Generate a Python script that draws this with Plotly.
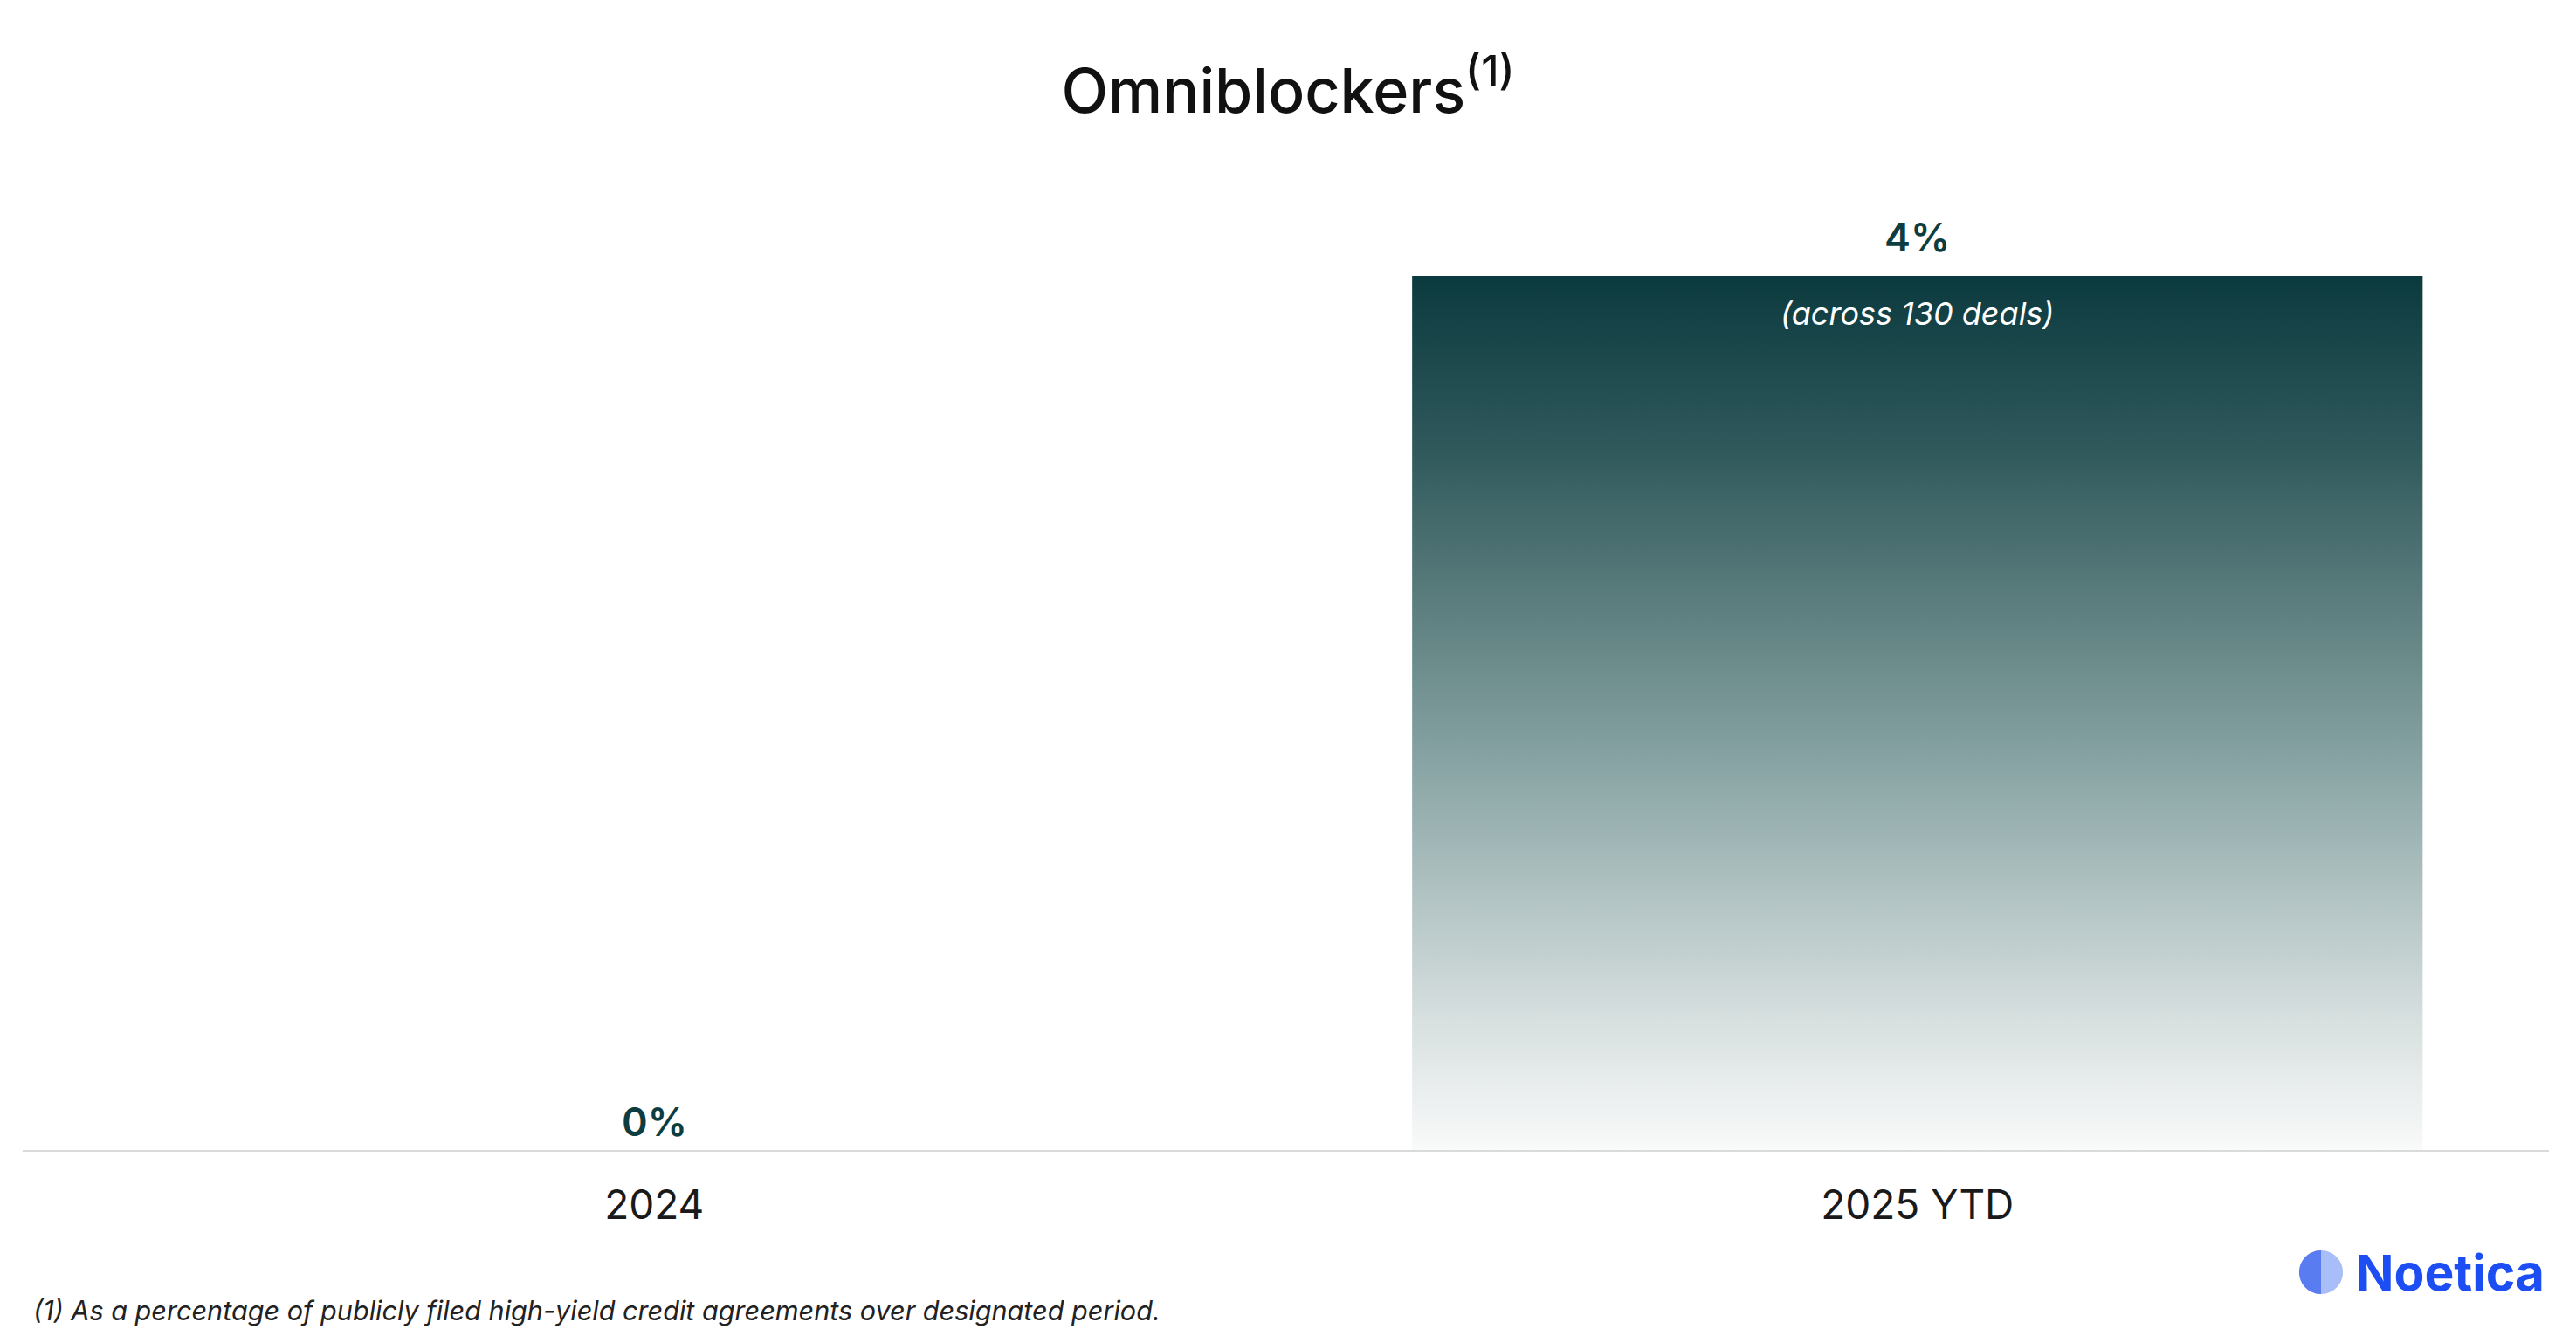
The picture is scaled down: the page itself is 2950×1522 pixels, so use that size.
import math
import plotly.graph_objects as go

# ---------------- data ----------------
categories = ["2024", "2025 YTD"]
values = [0, 4]
value_labels = ["0%", "4%"]
bar_notes = ["", "(across 130 deals)"]
title_text = "Omniblockers<sup>(1)</sup>"
footnote_text = "(1) As a percentage of publicly filed high-yield credit agreements over designated period."
brand_text = "Noetica"

# ---------------- layout constants ----------------
W, H = 2950, 1522
ML, MR, MT, MB = 26, 31, 216, 205
PW, PH = W - ML - MR, H - MT - MB
BAR_W = 0.8
Y_MAX = 4.4
FONT = "Inter"
TEAL = "#0d3d40"

grad_scale = [
    [0.0, "#f9fafa"],
    [0.15, "#d7dfdf"],
    [0.30, "#afc1c1"],
    [0.45, "#86a2a2"],
    [0.60, "#628383"],
    [0.80, "#30595c"],
    [1.0, "#0b3a3e"],
]

fig = go.Figure()
x_pos = list(range(len(categories)))

# invisible bar trace (carries hover / category semantics)
fig.add_trace(go.Bar(
    x=x_pos, y=values, width=BAR_W,
    marker=dict(color="rgba(0,0,0,0)", line=dict(width=0)),
    hovertext=categories, hoverinfo="text+y", showlegend=False,
))

# gradient-filled bars built from the data
for i, v in enumerate(values):
    if v <= 0:
        continue
    x0, x1 = x_pos[i] - BAR_W / 2, x_pos[i] + BAR_W / 2
    fig.add_trace(go.Scatter(
        x=[x0, x1, x1, x0, x0], y=[0, 0, v, v, 0],
        mode="none", fill="toself",
        fillgradient=dict(type="vertical", colorscale=grad_scale, start=0, stop=v),
        hoverinfo="skip", showlegend=False,
    ))

# value labels
for i, (v, lab) in enumerate(zip(values, value_labels)):
    fig.add_annotation(
        x=x_pos[i], y=v, xref="x", yref="y", text=lab, showarrow=False,
        yanchor="bottom", yshift=15 if v > 0 else 3,
        font=dict(family=FONT, size=45, color=TEAL, weight=600),
    )

# notes inside bars
for i, (v, note) in enumerate(zip(values, bar_notes)):
    if not note:
        continue
    fig.add_annotation(
        x=x_pos[i], y=v, xref="x", yref="y", text=note, showarrow=False,
        yanchor="top", yshift=-19,
        font=dict(family=FONT, size=36, color="white", style="italic"),
    )

def px_x(p):
    return (p - ML) / PW

def px_y(p):
    return (H - MB - p) / PH

# footnote
fig.add_annotation(
    x=px_x(36), y=px_y(1500), xref="paper", yref="paper", text=footnote_text,
    showarrow=False, xanchor="left", yanchor="middle",
    font=dict(family=FONT, size=30.6, color="#222222", style="italic"),
)

# brand logo text
fig.add_annotation(
    x=px_x(2916), y=px_y(1457), xref="paper", yref="paper", text=brand_text,
    showarrow=False, xanchor="right", yanchor="middle",
    font=dict(family=FONT, size=57, color="#1c4ef4", weight=700),
)

# brand logo circle
cx, cy, r = 2658, 1457, 25
circ = [(cx + r * math.cos(t * math.pi / 60), cy + r * math.sin(t * math.pi / 60)) for t in range(121)]
path_full = "M " + " L ".join(f"{px_x(a):.5f},{px_y(b):.5f}" for a, b in circ) + " Z"
half = [(cx + r * math.cos(math.pi / 2 + t * math.pi / 60), cy - r * math.sin(math.pi / 2 + t * math.pi / 60)) for t in range(61)]
path_half = "M " + " L ".join(f"{px_x(a):.5f},{px_y(b):.5f}" for a, b in half) + " Z"
fig.add_shape(type="path", path=path_full, xref="paper", yref="paper",
              fillcolor="#a9bdf8", line=dict(width=0), layer="above")
fig.add_shape(type="path", path=path_half, xref="paper", yref="paper",
              fillcolor="#5a7cf1", line=dict(width=0), layer="above")

fig.update_layout(
    width=W, height=H,
    margin=dict(l=ML, r=MR, t=MT, b=MB, pad=0),
    paper_bgcolor="white", plot_bgcolor="white",
    showlegend=False,
    title=dict(
        text=title_text, x=0.5, xref="container", xanchor="center",
        y=1 - 104 / H, yref="container", yanchor="middle",
        font=dict(family=FONT, size=70, color="#111111", weight=500),
    ),
    xaxis=dict(
        range=[-0.5, len(categories) - 0.5], tickvals=x_pos, ticktext=categories,
        showgrid=False, zeroline=False, showline=True, linecolor="#dadada", linewidth=2,
        ticks="", ticklabelstandoff=22,
        tickfont=dict(family=FONT, size=46, color="#1a1a1a"),
        fixedrange=True,
    ),
    yaxis=dict(
        range=[0, Y_MAX], visible=False, showgrid=False, zeroline=False, fixedrange=True,
    ),
    bargap=0.2,
)

fig.write_html(
    "out.html",
    config={"displayModeBar": False},
    post_script="document.body.style.margin='0';document.body.style.overflow='hidden';",
)
